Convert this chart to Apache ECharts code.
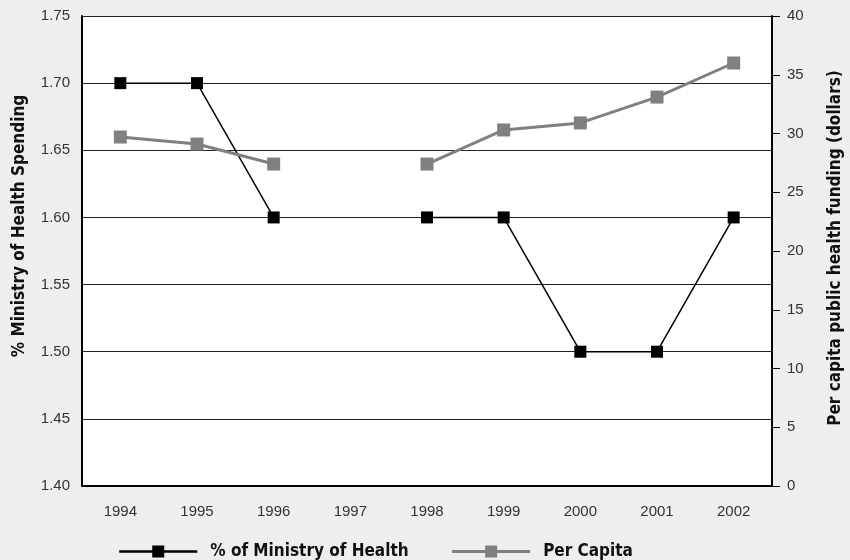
<!DOCTYPE html>
<html>
<head>
<meta charset="utf-8">
<script src="https://cdn.jsdelivr.net/npm/echarts@6/dist/echarts.min.js"></script>
<style>
html,body{margin:0;padding:0;background:#eeeeee;}
#chart{width:850px;height:560px;}
</style>
</head>
<body>
<div id="chart"></div>
<script>
var years = ['1994','1995','1996','1997','1998','1999','2000','2001','2002'];
var ministryShare = [1.70, 1.70, 1.60, null, 1.60, 1.60, 1.50, 1.50, 1.60];
var perCapita = [29.7, 29.1, 27.4, null, 27.4, 30.3, 30.9, 33.1, 36.0];
var leftTicks = ['1.40','1.45','1.50','1.55','1.60','1.65','1.70','1.75'];
var rightTicks = ['0','5','10','15','20','25','30','35','40'];
var leftTitle = '% Ministry of Health Spending';
var rightTitle = 'Per capita public health funding (dollars)';

var tickFont = '"Liberation Sans", Arial, sans-serif';
var boldFont = '"DejaVu Sans Condensed", "DejaVu Sans", sans-serif';
var chart = echarts.init(document.getElementById('chart'), null, {renderer:'canvas'});
chart.setOption({
  backgroundColor: '#eeeeee',
  animation: false,
  grid: {left: 82, right: 78, top: 16, bottom: 74, show: true, backgroundColor: '#ffffff', borderWidth: 0,
         containLabel: false, outerBoundsMode: 'none'},
  legend: {
    top: 538, left: 113, itemGap: 42, itemWidth: 78, itemHeight: 15,
    textStyle: {fontFamily: boldFont, fontWeight: 'bold', fontSize: 17, color: '#111', padding: [0, 0, 0, 8]},
    data: [
      {name: '% of Ministry of Health', lineStyle: {width: 2.5, color: '#000'}},
      {name: 'Per Capita', lineStyle: {width: 3, color: '#808080'}}
    ]
  },
  graphic: [{
    type: 'text', x: 20, y: 226, rotation: Math.PI / 2,
    style: {text: leftTitle, fontFamily: boldFont, fontWeight: 'bold', fontSize: 17, fill: '#111',
            align: 'center', verticalAlign: 'middle'}
  }, {
    type: 'text', x: 836, y: 248, rotation: Math.PI / 2,
    style: {text: rightTitle, fontFamily: boldFont, fontWeight: 'bold', fontSize: 17, fill: '#111',
            align: 'center', verticalAlign: 'middle'}
  }],
  xAxis: {
    type: 'category', data: years, boundaryGap: true,
    axisLine: {lineStyle: {color: '#000', width: 2}},
    axisTick: {inside: true, length: 12, lineStyle: {color: '#000', width: 2}},
    axisLabel: {margin: 18, fontFamily: tickFont, fontSize: 15, color: '#333'},
    splitLine: {show: false}
  },
  yAxis: [{
    type: 'value', min: 1.40, max: 1.75, interval: 0.05, position: 'left',
    axisLine: {show: true, lineStyle: {color: '#000', width: 2}},
    axisTick: {show: false},
    axisLabel: {margin: 12, fontFamily: tickFont, fontSize: 15, color: '#333',
      formatter: function (v) { return leftTicks[Math.round((v - 1.40) / 0.05)]; }},
    splitLine: {show: true, lineStyle: {color: '#222', width: 1}}
  }, {
    type: 'value', min: 0, max: 40, interval: 5, position: 'right',
    axisLine: {show: true, lineStyle: {color: '#000', width: 2}},
    axisTick: {show: true, length: 8, lineStyle: {color: '#000', width: 1}},
    axisLabel: {margin: 15, fontFamily: tickFont, fontSize: 15, color: '#333',
      formatter: function (v) { return rightTicks[Math.round(v / 5)]; }},
    splitLine: {show: false}
  }],
  series: [{
    name: '% of Ministry of Health', type: 'line', yAxisIndex: 0, data: ministryShare,
    symbol: 'rect', symbolSize: 12, connectNulls: false,
    lineStyle: {color: '#000', width: 1.5}, itemStyle: {color: '#000'}
  }, {
    name: 'Per Capita', type: 'line', yAxisIndex: 1, data: perCapita,
    symbol: 'rect', symbolSize: 13, connectNulls: false,
    lineStyle: {color: '#808080', width: 3}, itemStyle: {color: '#808080'}
  }]
});
</script>
</body>
</html>
